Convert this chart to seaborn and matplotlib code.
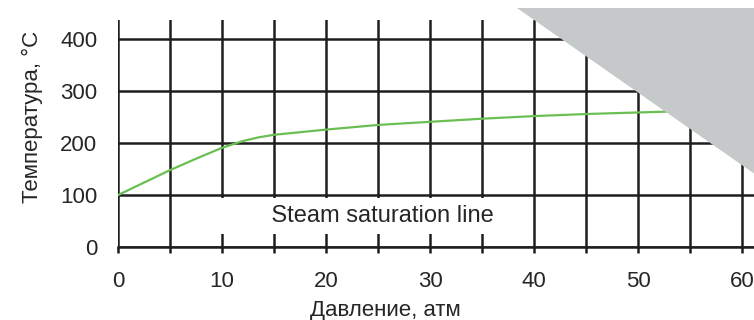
import matplotlib
matplotlib.use("Agg")
import matplotlib.pyplot as plt
import seaborn as sns
import pandas as pd
from matplotlib.patches import Polygon
from matplotlib.ticker import MultipleLocator

# steam saturation curve
pressure = [0, 2.5, 5, 7.5, 10, 12, 13.5, 15, 17.5, 20, 25, 30, 35, 40, 45, 50, 55, 58]
temperature = [100, 124, 148, 170, 191, 204, 211, 216, 221, 226, 235, 241, 247, 252, 256, 259, 262, 263]

x_ticks = [0, 10, 20, 30, 40, 50, 60]
y_ticks = [0, 100, 200, 300, 400]

x_label = "Давление, атм"
y_label = "Температура, °С"
curve_label = "Steam saturation line"

df = pd.DataFrame({"p": pressure, "t": temperature})

sns.set_style("white")
plt.rcParams["font.family"] = ["Liberation Sans", "DejaVu Sans"]
fs = 16

fig = plt.figure(figsize=(7.54, 3.2), dpi=100)
ax = fig.add_axes([118 / 754, 73 / 320, 645 / 754, 227 / 320])

sns.lineplot(data=df, x="p", y="t", color="#6abf52", linewidth=1.6, ax=ax, zorder=3)

ax.set_xlim(0, 62)
ax.set_ylim(0, 437)
ax.set_xticks(x_ticks)
ax.xaxis.set_minor_locator(MultipleLocator(5))
ax.set_yticks(y_ticks)

grid_col = "#1e1e1e"
ax.grid(True, which="both", axis="x", color=grid_col, linewidth=1.8)
ax.grid(True, which="major", axis="y", color=grid_col, linewidth=1.8)
ax.set_axisbelow(True)

for s in ["top", "right", "left"]:
    ax.spines[s].set_visible(False)
ax.spines["bottom"].set_color(grid_col)
ax.spines["bottom"].set_linewidth(1.8)

ax.tick_params(axis="x", which="both", direction="out", length=4, width=1.8,
               color=grid_col, pad=13, labelsize=fs, bottom=True)
ax.tick_params(axis="y", length=0, pad=15, labelsize=fs)

ax.set_xlabel("")
ax.set_ylabel("")
fig.text(310 / 754, 1 - 300 / 320, x_label, fontsize=fs, ha="left", va="top")
fig.text(43 / 754, 1 - 203 / 320, y_label, fontsize=fs, rotation=90,
         ha="right", va="bottom")

ax.text(24.45, 60, " " * 7 + curve_label + " " * 4, fontsize=17, ha="center",
        va="center", zorder=4,
        bbox=dict(boxstyle="square,pad=0.3", facecolor="white", edgecolor="none"))

# grey corner wedge over the top right
tri = Polygon([(517 / 754, 312 / 320), (1.02, 312 / 320), (1.02, 136 / 320)],
              closed=True, transform=fig.transFigure, facecolor="#c6c9ca",
              edgecolor="none", zorder=10)
fig.add_artist(tri)

fig.savefig("out.png", dpi=100)
